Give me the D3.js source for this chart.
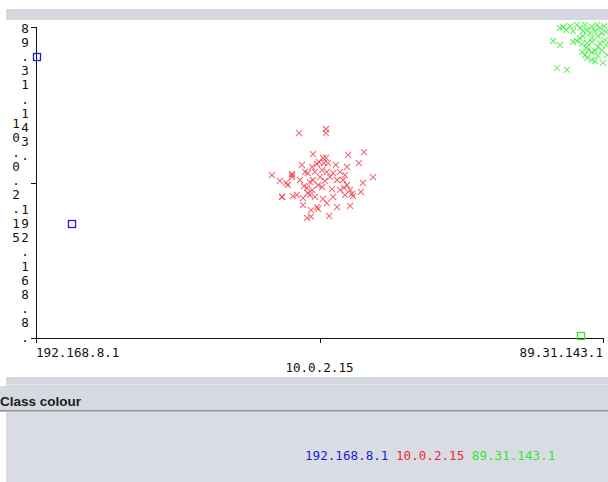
<!DOCTYPE html>
<html>
<head>
<meta charset="utf-8">
<script src="https://cdn.jsdelivr.net/npm/d3@7"></script>
<style>
  html, body { margin: 0; padding: 0; background: #ffffff; }
  svg { display: block; }
</style>
</head>
<body>
<svg id="chart" width="608" height="482"></svg>
<script>
// ---- data ----
const categories = ["192.168.8.1", "10.0.2.15", "89.31.143.1"];   // nominal axis values (index 0,1,2)
const classColours = ["#1c1ce0", "#f02a3a", "#2ee82e"];
const xTickLabels = ["192.168.8.1", "10.0.2.15", "89.31.143.1"];
const yTickLabels = ["192.168.8.1", "10.0.2.15", "89.31.143.1"];
const legendLabels = ["192.168.8.1", "10.0.2.15", "89.31.143.1"];
const panelTitle = "Class colour";

// jittered instances: x = category index (with jitter), y = category index (with jitter)
// squares (misclassified)
const squareX = [0.004, 0.127, 1.922];
const squareY = [1.807, 0.733, 0.013];
const squareClass = [0, 0, 2];

// red crosses (class 10.0.2.15)
const redX = [0.928,1.023,1.023,0.977,1.101,1.157,1.012,1.023,0.998,1.016,1.030,0.938,1.058,1.097,1.139,0.991,0.974,0.832,0.903,0.903,
  0.949,0.959,0.984,1.009,1.026,1.048,1.072,1.090,1.189,1.037,1.002,0.860,0.882,0.931,0.966,1.019,1.062,1.083,1.153,1.097,
  0.956,0.974,1.009,1.044,1.072,1.108,1.146,0.959,0.966,0.906,0.920,0.868,0.942,0.984,1.012,1.048,1.090,1.118,0.942,0.991,
  1.026,0.970,0.995,1.062,1.108,0.956,1.034,0.977,0.995,0.945,0.868,0.888,1.087,1.115,0.903,0.970];
const redY = [1.318,1.344,1.318,1.183,1.177,1.196,1.158,1.158,1.132,1.125,1.125,1.113,1.113,1.100,1.125,1.119,1.100,1.048,1.055,1.035,
  1.068,1.061,1.068,1.080,1.068,1.061,1.068,1.048,1.035,1.035,1.035,1.010,0.997,1.016,1.003,1.010,1.016,1.016,0.997,0.984,
  0.965,0.952,0.971,0.958,0.952,0.952,0.939,0.932,0.920,0.913,0.920,0.907,0.900,0.907,0.894,0.907,0.920,0.913,0.855,0.842,
  0.868,0.823,0.830,0.842,0.849,0.772,0.785,1.016,0.984,0.977,0.907,0.984,0.965,0.927,1.048,0.780];

// green crosses (class 89.31.143.1)
const greenX = [1.848,1.859,1.870,1.884,1.894,1.908,1.919,1.929,1.937,1.944,1.954,1.961,1.972,1.979,1.989,1.996,2.004,1.982,1.961,1.929,
  1.919,1.908,1.894,1.824,1.848,1.926,1.944,1.961,1.989,2.007,1.944,1.982,1.947,1.972,1.996,1.926,1.961,1.937,1.982,1.944,
  1.961,1.972,2.000,1.838,1.873,2.011,2.011,2.014];
const greenY = [1.994,2.000,1.981,2.006,1.974,2.013,1.994,1.974,2.013,1.981,1.961,2.000,1.974,2.013,1.994,1.961,2.006,1.942,1.929,1.942,
  1.929,1.910,1.904,1.910,1.884,1.891,1.897,1.904,1.897,1.916,1.871,1.871,1.852,1.846,1.852,1.839,1.839,1.820,1.814,1.801,
  1.788,1.781,1.769,1.736,1.724,1.968,1.884,1.820];

// ---- drawing ----
const svg = d3.select("#chart");
const W = 608, H = 482;
const mono = "'DejaVu Sans Mono', 'Liberation Mono', monospace";

// window chrome
svg.append("rect").attr("x",0).attr("y",0).attr("width",W).attr("height",H).attr("fill","#ffffff");
svg.append("rect").attr("x",6).attr("y",9).attr("width",W-6).attr("height",11).attr("fill","#d5d8de");
svg.append("rect").attr("x",7).attr("y",20).attr("width",W-7).attr("height",357).attr("fill","#ffffff");
svg.append("rect").attr("x",6).attr("y",377).attr("width",W-6).attr("height",9).attr("fill","#d5d8de");
svg.append("line").attr("x1",7).attr("x2",W).attr("y1",384.5).attr("y2",384.5).attr("stroke","#e3e5ea");
svg.append("rect").attr("x",0).attr("y",386).attr("width",W).attr("height",24).attr("fill","#d6d9df");
svg.append("text").attr("x",0).attr("y",406)
  .attr("font-family","'Liberation Sans', Arial, sans-serif").attr("font-weight","bold").attr("font-size",13.5)
  .attr("fill","#1a1a1a").text(panelTitle);
svg.append("line").attr("x1",0).attr("x2",W).attr("y1",410.5).attr("y2",410.5).attr("stroke","#8e9196");
svg.append("line").attr("x1",0).attr("x2",W).attr("y1",411.5).attr("y2",411.5).attr("stroke","#b8bbc1");
svg.append("rect").attr("x",6).attr("y",412).attr("width",W-6).attr("height",H-412).attr("fill","#d9dce3");

// scales
const x = d3.scaleLinear().domain([0, 2]).range([36, 603]);
const y = d3.scaleLinear().domain([0, 2]).range([338, 27]);

const plot = svg.append("g");
plot.append("clipPath").attr("id","clip").append("rect")
  .attr("x",7).attr("y",20).attr("width",W-7).attr("height",357);

// axes
const axisCol = "#111";
plot.append("line").attr("x1",x(0)).attr("x2",x(0)).attr("y1",y(2)).attr("y2",y(0)+5).attr("stroke",axisCol);
plot.append("line").attr("x1",x(0)-5).attr("x2",x(2)).attr("y1",y(0)).attr("y2",y(0)).attr("stroke",axisCol);
[1, 2].forEach(v => {
  plot.append("line").attr("x1",x(v)).attr("x2",x(v)).attr("y1",y(0)).attr("y2",y(0)+5).attr("stroke",axisCol);
});
[1, 2].forEach(v => {
  plot.append("line").attr("x1",x(0)-5).attr("x2",x(0)).attr("y1",y(v)).attr("y2",y(v)).attr("stroke",axisCol);
});
// crisp
plot.selectAll("line").each(function(){
  const s = d3.select(this);
  const x1 = +s.attr("x1"), x2 = +s.attr("x2"), y1 = +s.attr("y1"), y2 = +s.attr("y2");
  if (x1 === x2) { s.attr("x1", Math.round(x1)+0.5).attr("x2", Math.round(x2)+0.5); }
  if (y1 === y2) { s.attr("y1", Math.round(y1)+0.5).attr("y2", Math.round(y2)+0.5); }
});

// x tick labels
const fs = 12.6;
plot.append("text").attr("x", x(0)).attr("y", 357).attr("text-anchor","start")
  .attr("font-family",mono).attr("font-size",fs).attr("fill","#111").text(xTickLabels[0]);
plot.append("text").attr("x", x(1)).attr("y", 372).attr("text-anchor","middle")
  .attr("font-family",mono).attr("font-size",fs).attr("fill","#111").text(xTickLabels[1]);
plot.append("text").attr("x", x(2)).attr("y", 357).attr("text-anchor","end")
  .attr("font-family",mono).attr("font-size",fs).attr("fill","#111").text(xTickLabels[2]);

// y tick labels, drawn vertically one character per line
const step = 14.2;
function verticalLabel(label, cx, firstBaseline, nChars) {
  const t = plot.append("text").attr("font-family",mono).attr("font-size",fs).attr("fill","#111")
    .attr("text-anchor","middle");
  label.split("").slice(0, nChars).forEach((ch, i) => {
    t.append("tspan").attr("x", cx).attr("y", firstBaseline + i*step).text(ch);
  });
}
verticalLabel(yTickLabels[2], 25, y(2) + 5.5, yTickLabels[2].length - 1);
verticalLabel(yTickLabels[1], 16, y(1) - 4*step + 2.5, yTickLabels[1].length);
verticalLabel(yTickLabels[0], 25, y(0) + 3.5 - 9*step, yTickLabels[0].length - 1);

// marks
const marks = plot.append("g").attr("clip-path","url(#clip)");
function crosses(xs, ys, colour) {
  const d = xs.map((v, i) => [v, ys[i]]);
  marks.append("g").selectAll("path").data(d).join("path")
    .attr("d", p => {
      const cx = x(p[0]), cy = y(p[1]), r = 3;
      return `M${cx-r},${cy-r}L${cx+r},${cy+r}M${cx-r},${cy+r}L${cx+r},${cy-r}`;
    })
    .attr("stroke", colour).attr("stroke-width", 1.1).attr("stroke-opacity", 0.7).attr("fill","none");
}
crosses(redX, redY, classColours[1]);
crosses(greenX, greenY, classColours[2]);

marks.append("g").selectAll("rect").data(squareX.map((v,i)=>({x:v, y:squareY[i], c:squareClass[i]}))).join("rect")
  .attr("x", d => Math.round(x(d.x)) - 3.5).attr("y", d => Math.round(y(d.y)) - 3.5)
  .attr("width", 7).attr("height", 7).attr("fill","none")
  .attr("stroke", d => classColours[d.c]).attr("stroke-width", 1.3);

// legend
const leg = svg.append("text").attr("x", 305).attr("y", 459.5)
  .attr("font-family",mono).attr("font-size",fs);
legendLabels.forEach((l, i) => {
  leg.append("tspan").attr("fill", classColours[i]).text((i ? " " : "") + l);
});
</script>
</body>
</html>
